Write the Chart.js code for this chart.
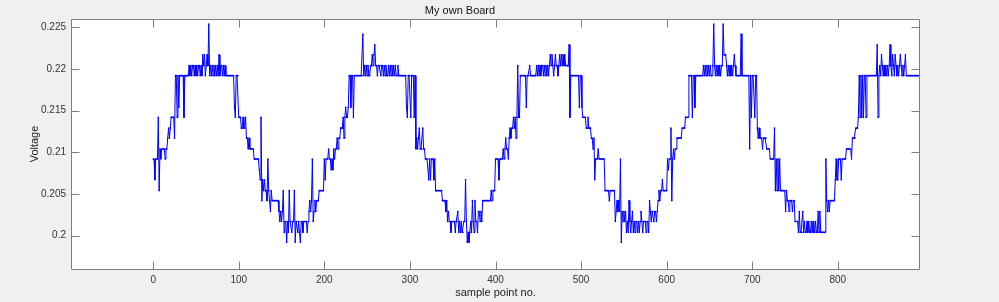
<!DOCTYPE html>
<html>
<head>
<meta charset="utf-8">
<title>My own Board</title>
<script src="https://cdn.jsdelivr.net/npm/chart.js@4.4.0/dist/chart.umd.min.js"></script>
<style>
    html, body { margin: 0; padding: 0; background: #f0f0f0; }
    #wrap { width: 999px; height: 302px; }
</style>
</head>
<body>
<div id="wrap"><canvas id="boardChart" width="999" height="302"></canvas></div>
<script>
const chartTitle = 'My own Board';
const xAxisLabel = 'sample point no.';
const yAxisLabel = 'Voltage';

const xTickValues = [0, 100, 200, 300, 400, 500, 600, 700, 800];
const yTickValues = [0.2, 0.205, 0.21, 0.215, 0.22, 0.225];
const yTickLabels = ['0.2', '0.205', '0.21', '0.215', '0.22', '0.225'];

const voltage = [
    0.2092,0.2092,0.2067,0.2092,0.2092,0.2092,0.2142,0.2054,0.2104,0.2092,
    0.2104,0.2104,0.2104,0.2104,0.2092,0.2104,0.2104,0.2117,0.2129,0.2117,
    0.2129,0.2142,0.2142,0.2142,0.2142,0.2117,0.2192,0.2192,0.2142,0.2192,
    0.2154,0.2192,0.2192,0.2192,0.2192,0.2192,0.2142,0.2192,0.2192,0.2192,
    0.2192,0.2192,0.2204,0.2192,0.2204,0.2192,0.2204,0.2204,0.2192,0.2204,
    0.2192,0.2204,0.2192,0.2204,0.2204,0.2192,0.2204,0.2192,0.2217,0.2204,
    0.2217,0.2192,0.2204,0.2217,0.2204,0.2254,0.2192,0.2204,0.2192,0.2204,
    0.2192,0.2204,0.2192,0.2204,0.2192,0.2204,0.2192,0.2217,0.2192,0.2204,
    0.2204,0.2192,0.2204,0.2192,0.2204,0.2192,0.2192,0.2192,0.2192,0.2192,
    0.2192,0.2192,0.2192,0.2192,0.2192,0.2154,0.2142,0.2192,0.2192,0.2192,
    0.2142,0.2142,0.2142,0.2129,0.2129,0.2142,0.2129,0.2129,0.2142,0.2117,
    0.2117,0.2104,0.2117,0.2104,0.2104,0.2104,0.2104,0.2104,0.2092,0.2092,
    0.2092,0.2092,0.2092,0.2092,0.2079,0.2067,0.2142,0.2042,0.2067,0.2054,
    0.2067,0.2054,0.2054,0.2042,0.2092,0.2054,0.2042,0.2029,0.2054,0.2042,
    0.2042,0.2042,0.2042,0.2042,0.2042,0.2042,0.2042,0.2029,0.2017,0.2029,
    0.2017,0.2029,0.2054,0.2004,0.2017,0.2017,0.1992,0.2017,0.2004,0.2054,
    0.2017,0.2017,0.2004,0.2017,0.2017,0.2054,0.1992,0.2017,0.2017,0.2004,
    0.2017,0.2004,0.1992,0.2017,0.2017,0.2004,0.2017,0.2017,0.2017,0.2017,
    0.2004,0.2017,0.2029,0.2042,0.2029,0.2042,0.2092,0.2017,0.2029,0.2042,
    0.2029,0.2042,0.2042,0.2042,0.2054,0.2054,0.2054,0.2054,0.2054,0.2054,
    0.2092,0.2067,0.2092,0.2092,0.2092,0.2104,0.2092,0.2092,0.2079,0.2092,
    0.2079,0.2104,0.2092,0.2104,0.2104,0.2117,0.2104,0.2117,0.2117,0.2129,
    0.2129,0.2129,0.2142,0.2117,0.2142,0.2154,0.2142,0.2142,0.2154,0.2192,
    0.2192,0.2154,0.2192,0.2192,0.2142,0.2192,0.2192,0.2192,0.2192,0.2192,
    0.2192,0.2192,0.2192,0.2192,0.2192,0.2242,0.2192,0.2204,0.2192,0.2204,
    0.2192,0.2204,0.2192,0.2192,0.2204,0.2204,0.2217,0.2204,0.2217,0.2229,
    0.2204,0.2204,0.2192,0.2204,0.2204,0.2204,0.2192,0.2204,0.2204,0.2192,
    0.2204,0.2192,0.2204,0.2192,0.2192,0.2204,0.2192,0.2204,0.2192,0.2204,
    0.2192,0.2204,0.2192,0.2204,0.2192,0.2192,0.2204,0.2192,0.2192,0.2192,
    0.2192,0.2192,0.2192,0.2192,0.2192,0.2192,0.2154,0.2142,0.2192,0.2192,
    0.2192,0.2142,0.2192,0.2192,0.2192,0.2142,0.2192,0.2104,0.2117,0.2104,
    0.2117,0.2129,0.2104,0.2104,0.2104,0.2129,0.2104,0.2104,0.2092,0.2092,
    0.2092,0.2092,0.2067,0.2092,0.2067,0.2092,0.2092,0.2092,0.2067,0.2092,
    0.2054,0.2054,0.2054,0.2054,0.2054,0.2054,0.2054,0.2054,0.2042,0.2042,
    0.2042,0.2042,0.2029,0.2042,0.2017,0.2029,0.2017,0.2017,0.2004,0.2017,
    0.2017,0.2017,0.2017,0.2004,0.2017,0.2017,0.2029,0.2004,0.2017,0.2004,
    0.2017,0.2004,0.2004,0.2017,0.2017,0.2067,0.2017,0.1992,0.2004,0.1992,
    0.2004,0.2017,0.2004,0.2042,0.2017,0.2004,0.2042,0.2017,0.2017,0.2004,
    0.2029,0.2029,0.2017,0.2029,0.2017,0.2042,0.2042,0.2042,0.2042,0.2042,
    0.2042,0.2042,0.2042,0.2042,0.2042,0.2054,0.2042,0.2054,0.2054,0.2054,
    0.2092,0.2092,0.2092,0.2092,0.2067,0.2092,0.2092,0.2092,0.2092,0.2104,
    0.2092,0.2104,0.2117,0.2104,0.2104,0.2092,0.2117,0.2129,0.2117,0.2129,
    0.2129,0.2142,0.2129,0.2142,0.2117,0.2142,0.2204,0.2142,0.2142,0.2192,
    0.2192,0.2192,0.2192,0.2192,0.2192,0.2192,0.2154,0.2192,0.2192,0.2192,
    0.2204,0.2192,0.2192,0.2192,0.2192,0.2192,0.2192,0.2192,0.2204,0.2192,
    0.2204,0.2192,0.2204,0.2192,0.2204,0.2204,0.2192,0.2204,0.2192,0.2204,
    0.2192,0.2204,0.2192,0.2204,0.2217,0.2204,0.2217,0.2204,0.2192,0.2204,
    0.2217,0.2204,0.2204,0.2192,0.2204,0.2217,0.2204,0.2217,0.2204,0.2217,
    0.2204,0.2217,0.2204,0.2204,0.2204,0.2204,0.2229,0.2142,0.2192,0.2192,
    0.2192,0.2192,0.2192,0.2192,0.2192,0.2192,0.2192,0.2192,0.2154,0.2192,
    0.2192,0.2154,0.2142,0.2142,0.2142,0.2142,0.2129,0.2129,0.2142,0.2129,
    0.2129,0.2129,0.2117,0.2117,0.2104,0.2117,0.2067,0.2092,0.2092,0.2092,
    0.2104,0.2092,0.2092,0.2092,0.2092,0.2092,0.2092,0.2092,0.2054,0.2054,
    0.2054,0.2054,0.2054,0.2042,0.2054,0.2054,0.2054,0.2054,0.2054,0.2054,
    0.2017,0.2029,0.2042,0.2029,0.2042,0.2029,0.2092,0.1992,0.2029,0.2017,
    0.2029,0.2017,0.2029,0.2004,0.2017,0.2004,0.2042,0.2017,0.2004,0.2017,
    0.2029,0.2004,0.2017,0.2004,0.2017,0.2017,0.2004,0.2017,0.2004,0.2017,
    0.2029,0.2017,0.2004,0.2017,0.2017,0.2017,0.2004,0.2017,0.2017,0.2004,
    0.2042,0.2029,0.2017,0.2029,0.2029,0.2017,0.2029,0.2029,0.2017,0.2029,
    0.2042,0.2054,0.2042,0.2054,0.2054,0.2067,0.2054,0.2054,0.2054,0.2054,
    0.2054,0.2092,0.2079,0.2092,0.2092,0.2129,0.2042,0.2092,0.2104,0.2092,
    0.2104,0.2104,0.2117,0.2117,0.2117,0.2117,0.2117,0.2117,0.2129,0.2129,
    0.2129,0.2129,0.2142,0.2142,0.2142,0.2142,0.2192,0.2192,0.2192,0.2192,
    0.2142,0.2192,0.2192,0.2154,0.2192,0.2192,0.2192,0.2192,0.2192,0.2192,
    0.2192,0.2192,0.2192,0.2204,0.2192,0.2204,0.2192,0.2204,0.2192,0.2204,
    0.2192,0.2204,0.2192,0.2192,0.2204,0.2254,0.2204,0.2192,0.2204,0.2192,
    0.2204,0.2192,0.2204,0.2192,0.2204,0.2204,0.2254,0.2217,0.2217,0.2217,
    0.2204,0.2192,0.2204,0.2192,0.2204,0.2192,0.2204,0.2192,0.2204,0.2217,
    0.2204,0.2192,0.2192,0.2192,0.2192,0.2192,0.2192,0.2242,0.2192,0.2192,
    0.2192,0.2192,0.2192,0.2192,0.2192,0.2192,0.2192,0.2104,0.2192,0.2142,
    0.2192,0.2192,0.2192,0.2142,0.2192,0.2192,0.2129,0.2117,0.2129,0.2117,
    0.2117,0.2117,0.2104,0.2117,0.2117,0.2117,0.2117,0.2104,0.2104,0.2104,
    0.2104,0.2092,0.2092,0.2092,0.2092,0.2092,0.2129,0.2054,0.2092,0.2054,
    0.2092,0.2054,0.2092,0.2054,0.2054,0.2054,0.2054,0.2054,0.2054,0.2029,
    0.2054,0.2042,0.2042,0.2029,0.2042,0.2042,0.2042,0.2029,0.2042,0.2042,
    0.2017,0.2017,0.2017,0.2017,0.2004,0.2029,0.2004,0.2004,0.2004,0.2029,
    0.2004,0.2017,0.2004,0.2004,0.2017,0.2004,0.2017,0.2004,0.2004,0.2017,
    0.2004,0.2017,0.2004,0.2004,0.2017,0.2004,0.2004,0.2029,0.2004,0.2029,
    0.2004,0.2004,0.2004,0.2004,0.2004,0.2004,0.2092,0.2042,0.2029,0.2042,
    0.2029,0.2042,0.2042,0.2042,0.2042,0.2042,0.2042,0.2067,0.2092,0.2067,
    0.2067,0.2092,0.2092,0.2092,0.2067,0.2092,0.2092,0.2092,0.2092,0.2092,
    0.2104,0.2104,0.2104,0.2104,0.2104,0.2104,0.2092,0.2117,0.2117,0.2117,
    0.2117,0.2129,0.2129,0.2129,0.2142,0.2192,0.2142,0.2192,0.2142,0.2192,
    0.2142,0.2192,0.2192,0.2142,0.2192,0.2192,0.2192,0.2192,0.2192,0.2192,
    0.2192,0.2192,0.2192,0.2192,0.2192,0.2192,0.2229,0.2142,0.2192,0.2204,
    0.2192,0.2217,0.2204,0.2192,0.2204,0.2192,0.2204,0.2192,0.2204,0.2192,
    0.2204,0.2229,0.2204,0.2192,0.2217,0.2204,0.2192,0.2217,0.2204,0.2192,
    0.2204,0.2192,0.2204,0.2217,0.2204,0.2192,0.2204,0.2192,0.2204,0.2217,
    0.2192,0.2192,0.2192,0.2192,0.2192,0.2192,0.2192,0.2192,0.2192,0.2192,
    0.2192,0.2192,0.2192,0.2192,0.2192,0.2192,0.2192
];

const sampleNo = voltage.map((v, i) => i);

const axisColor = '#7f7f7f';
const textColor = '#333333';

// white plot area, MATLAB-style box with inward ticks on all four sides
const boxPlugin = {
    id: 'matlabBox',
    beforeDraw(chart) {
        const ctx = chart.ctx;
        const a = chart.chartArea;
        ctx.save();
        ctx.fillStyle = '#f0f0f0';
        ctx.fillRect(0, 0, chart.width, chart.height);
        ctx.fillStyle = '#ffffff';
        ctx.fillRect(a.left, a.top, a.right - a.left, a.bottom - a.top);
        ctx.restore();
    },
    afterDraw(chart) {
        const ctx = chart.ctx;
        const a = chart.chartArea;
        const xs = chart.scales.x;
        const ys = chart.scales.y;
        const len = 8;
        const left = Math.floor(a.left) + 0.5;
        const right = Math.floor(a.right) - 0.5;
        const top = Math.floor(a.top) + 0.5;
        const bottom = Math.floor(a.bottom) + 0.5;
        ctx.save();
        ctx.strokeStyle = axisColor;
        ctx.lineWidth = 1;
        ctx.beginPath();
        xTickValues.forEach(v => {
            const px = Math.round(xs.getPixelForValue(v)) + 0.5;
            ctx.moveTo(px, bottom);
            ctx.lineTo(px, bottom - len);
            ctx.moveTo(px, top);
            ctx.lineTo(px, top + len);
        });
        yTickValues.forEach(v => {
            const py = Math.round(ys.getPixelForValue(v)) + 0.5;
            ctx.moveTo(left, py);
            ctx.lineTo(left + len, py);
            ctx.moveTo(right, py);
            ctx.lineTo(right - len, py);
        });
        ctx.rect(left, top, right - left, bottom - top);
        ctx.stroke();
        ctx.restore();
    }
};

const ctx = document.getElementById('boardChart').getContext('2d');

new Chart(ctx, {
    type: 'line',
    data: {
        datasets: [{
            label: yAxisLabel,
            data: sampleNo.map((x, i) => ({ x: x, y: voltage[i] })),
            borderColor: 'rgb(0, 0, 255)',
            backgroundColor: 'rgb(0, 0, 255)',
            borderWidth: 1,
            pointRadius: 0.8,
            pointBorderWidth: 0,
            pointBackgroundColor: 'rgb(0, 0, 255)',
            tension: 0,
            fill: false
        }]
    },
    options: {
        responsive: false,
        animation: false,
        devicePixelRatio: 1,
        layout: { padding: { left: 0, right: 79, top: 0, bottom: 0 } },
        plugins: {
            legend: { display: false },
            tooltip: { enabled: false },
            title: {
                display: true,
                text: chartTitle,
                color: '#111111',
                font: { family: 'Liberation Sans, Arial, sans-serif', size: 11, weight: 'normal', lineHeight: 1.2 },
                padding: { top: 4.4, bottom: 1.4 }
            }
        },
        scales: {
            x: {
                type: 'linear',
                min: -96,
                max: 896,
                grid: { display: false, drawTicks: false },
                border: { display: false },
                afterBuildTicks: scale => {
                    scale.ticks = xTickValues.map(v => ({ value: v }));
                },
                afterFit: scale => { scale.height = 33; },
                ticks: {
                    color: textColor,
                    padding: 5,
                    maxRotation: 0,
                    autoSkip: false,
                    font: { family: 'Liberation Sans, Arial, sans-serif', size: 10 },
                    callback: value => String(value)
                },
                title: {
                    display: true,
                    text: xAxisLabel,
                    color: '#222222',
                    font: { family: 'Liberation Sans, Arial, sans-serif', size: 11, lineHeight: 1.2 },
                    padding: { top: 0, bottom: 2.4 }
                }
            },
            y: {
                type: 'linear',
                min: 0.196,
                max: 0.226,
                grid: { display: false, drawTicks: false },
                border: { display: false },
                afterBuildTicks: scale => {
                    scale.ticks = yTickValues.map(v => ({ value: v }));
                },
                afterFit: scale => { scale.width = 71; },
                ticks: {
                    color: textColor,
                    padding: 5,
                    autoSkip: false,
                    font: { family: 'Liberation Sans, Arial, sans-serif', size: 10 },
                    callback: (value, index) => yTickLabels[index]
                },
                title: {
                    display: true,
                    text: yAxisLabel,
                    color: '#222222',
                    font: { family: 'Liberation Sans, Arial, sans-serif', size: 11, lineHeight: 1.2 },
                    padding: { top: 27.9, bottom: 0 }
                }
            }
        }
    },
    plugins: [boxPlugin]
});
</script>
</body>
</html>
